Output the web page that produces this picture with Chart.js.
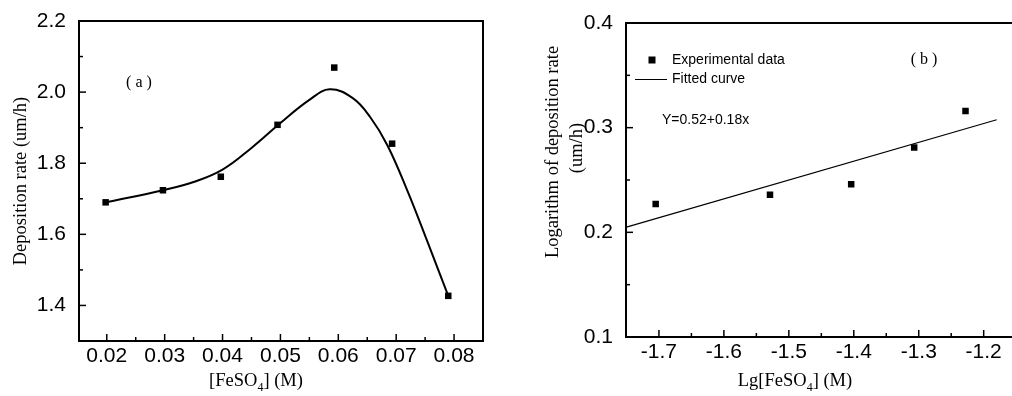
<!DOCTYPE html>
<html>
<head>
<meta charset="utf-8">
<script src="https://cdn.jsdelivr.net/npm/chart.js@4.4.0/dist/chart.umd.min.js"></script>
<style>
  html, body { margin: 0; padding: 0; background: #fff; }
  #wrap { position: relative; width: 1012px; height: 396px; overflow: hidden; }
  canvas { position: absolute; top: 0; }
  #chartA { left: 0; }
  #chartB { left: 500px; }
</style>
</head>
<body>
<div id="wrap">
  <canvas id="chartA" width="500" height="396"></canvas>
  <canvas id="chartB" width="512" height="396"></canvas>
</div>
<script>
// ---- panel (a): deposition rate vs [FeSO4]
const concA = [0.0198, 0.0297, 0.0397, 0.0495, 0.0593, 0.0693, 0.0790];
const rateA = [1.690, 1.724, 1.762, 1.908, 2.069, 1.855, 1.427];
// smooth curve drawn through the plot
const curveConcA = [0.0198, 0.0297, 0.035, 0.040, 0.045, 0.050, 0.055, 0.0585, 0.0625, 0.0655, 0.0685, 0.072, 0.0755, 0.0790];
const curveRateA = [1.690, 1.724, 1.747, 1.782, 1.843, 1.913, 1.978, 2.008, 1.983, 1.930, 1.850, 1.720, 1.575, 1.427];
const xTicksA = [0.02, 0.03, 0.04, 0.05, 0.06, 0.07, 0.08];
const xMinorA = [0.015, 0.025, 0.035, 0.045, 0.055, 0.065, 0.075];
const yTicksA = [1.4, 1.6, 1.8, 2.0, 2.2];
const yMinorA = [1.3, 1.5, 1.7, 1.9, 2.1];

// ---- panel (b): log-log plot with linear fit
const lgConcB = [-1.705, -1.529, -1.404, -1.307, -1.228];
const lgRateB = [0.227, 0.236, 0.246, 0.281, 0.316];
const fitXB = [-1.75, -1.18];
const fitYB = [0.205, 0.3076];
const xTicksB = [-1.7, -1.6, -1.5, -1.4, -1.3, -1.2];
const xMinorB = [-1.75, -1.65, -1.55, -1.45, -1.35, -1.25];
const yTicksB = [0.1, 0.2, 0.3, 0.4];
const yMinorB = [0.15, 0.25, 0.35];

const pts = (xs, ys) => xs.map((x, i) => ({ x, y: ys[i] }));
const tickFont = { family: "'Liberation Sans', Arial, sans-serif", size: 21 };
const serif = "'Liberation Serif', 'Times New Roman', serif";

// draws frame, inward ticks, titles and free text
const decor = {
  id: 'decor',
  afterDraw(chart, args, o) {
    const { ctx, chartArea: a, scales } = chart;
    ctx.save();
    ctx.strokeStyle = '#000';
    ctx.fillStyle = '#000';
    ctx.lineWidth = 1.5;
    const seg = (x1, y1, x2, y2) => { ctx.beginPath(); ctx.moveTo(x1, y1); ctx.lineTo(x2, y2); ctx.stroke(); };
    o.xMajor.forEach(v => { const p = scales.x.getPixelForValue(v); seg(p, a.bottom, p, a.bottom - 7); });
    o.xMinor.forEach(v => { const p = scales.x.getPixelForValue(v); if (p > a.left + 1) seg(p, a.bottom, p, a.bottom - 4); });
    o.yMajor.forEach(v => { const p = scales.y.getPixelForValue(v); seg(a.left, p, a.left + 7, p); });
    o.yMinor.forEach(v => { const p = scales.y.getPixelForValue(v); if (p < a.bottom - 1) seg(a.left, p, a.left + 4, p); });

    ctx.lineWidth = 2;
    ctx.beginPath();
    if (o.closed) {
      ctx.rect(a.left, a.top, a.right - a.left, a.bottom - a.top);
    } else {
      ctx.moveTo(chart.width, a.top); ctx.lineTo(a.left, a.top);
      ctx.lineTo(a.left, a.bottom); ctx.lineTo(chart.width, a.bottom);
    }
    ctx.stroke();

    // x title with subscript
    ctx.textBaseline = 'alphabetic';
    ctx.textAlign = 'left';
    const big = '18.5px ' + serif, small = '12px ' + serif;
    ctx.font = big;
    const w1 = ctx.measureText(o.xTitle[0]).width, w3 = ctx.measureText(o.xTitle[2]).width;
    ctx.font = small;
    const w2 = ctx.measureText(o.xTitle[1]).width;
    let x = o.xTitlePos[0] - (w1 + w2 + w3) / 2;
    const y = o.xTitlePos[1];
    ctx.font = big; ctx.fillText(o.xTitle[0], x, y); x += w1;
    ctx.font = small; ctx.fillText(o.xTitle[1], x, y + 5); x += w2;
    ctx.font = big; ctx.fillText(o.xTitle[2], x, y);

    // rotated y title lines
    ctx.font = big;
    ctx.textAlign = 'center';
    ctx.textBaseline = 'middle';
    o.yTitle.forEach(t => {
      ctx.save();
      ctx.translate(t[1], t[2]);
      ctx.rotate(-Math.PI / 2);
      ctx.fillText(t[0], 0, 0);
      ctx.restore();
    });

    // free texts
    o.texts.forEach(t => {
      ctx.font = t.font;
      ctx.textAlign = t.align || 'left';
      ctx.fillText(t.text, t.x, t.y);
    });

    // legend
    if (o.legend) {
      const ds = chart.data.datasets;
      ctx.font = "14px 'Liberation Sans', Arial, sans-serif";
      ctx.textAlign = 'left';
      ctx.fillRect(148.5, 56.5, 7, 7);
      ctx.fillText(ds[0].label, 172, 60);
      ctx.lineWidth = 1;
      seg(135, 79.5, 167, 79.5);
      ctx.fillText(ds[1].label, 172, 79);
    }
    ctx.restore();
  }
};

function scaleX(min, max, ticks, h) {
  return {
    type: 'linear', min, max,
    grid: { display: false }, border: { display: false },
    afterBuildTicks: s => { s.ticks = ticks.map(v => ({ value: v })); },
    afterFit: s => { s.height = h; },
    ticks: { color: '#000', font: tickFont, padding: -5, maxRotation: 0, callback: v => v }
  };
}
function scaleY(min, max, ticks, w, digits) {
  return {
    type: 'linear', min, max,
    grid: { display: false }, border: { display: false },
    afterBuildTicks: s => { s.ticks = ticks.map(v => ({ value: v })); },
    afterFit: s => { s.width = w; },
    ticks: { color: '#000', font: tickFont, padding: 5, callback: v => v.toFixed(digits) }
  };
}

new Chart(document.getElementById('chartA'), {
  type: 'scatter',
  data: {
    datasets: [
      { label: 'Deposition rate', data: pts(concA, rateA), pointStyle: 'rect', pointRadius: 4.6,
        pointBorderWidth: 0, backgroundColor: '#000', borderColor: '#000' },
      { label: 'Fit', data: pts(curveConcA, curveRateA), showLine: true, pointRadius: 0,
        borderColor: '#000', borderWidth: 2, tension: 0.4 }
    ]
  },
  options: {
    responsive: false, animation: false,
    layout: { padding: { left: 0, top: 21, right: 17, bottom: 0 } },
    plugins: {
      legend: { display: false }, tooltip: { enabled: false },
      decor: {
        closed: true,
        xMajor: xTicksA, xMinor: xMinorA, yMajor: yTicksA, yMinor: yMinorA,
        xTitle: ['[FeSO', '4', '] (M)'], xTitlePos: [256, 386],
        yTitle: [['Deposition rate (um/h)', 21, 181]],
        texts: [{ text: '( a )', x: 139, y: 83, font: '16px ' + serif, align: 'center' }]
      }
    },
    scales: {
      x: scaleX(0.0152, 0.085, xTicksA, 55),
      y: scaleY(1.3, 2.2, yTicksA, 79, 1)
    }
  },
  plugins: [decor]
});

new Chart(document.getElementById('chartB'), {
  type: 'scatter',
  data: {
    datasets: [
      { label: 'Experimental data', data: pts(lgConcB, lgRateB), pointStyle: 'rect', pointRadius: 4.6,
        pointBorderWidth: 0, backgroundColor: '#000', borderColor: '#000' },
      { label: 'Fitted curve', data: pts(fitXB, fitYB), showLine: true, pointRadius: 0,
        borderColor: '#000', borderWidth: 1.2 }
    ]
  },
  options: {
    responsive: false, animation: false,
    layout: { padding: { left: 0, top: 23, right: 0, bottom: 0 } },
    plugins: {
      legend: { display: false }, tooltip: { enabled: false },
      decor: {
        closed: false, legend: true,
        xMajor: xTicksB, xMinor: xMinorB, yMajor: yTicksB, yMinor: yMinorB,
        xTitle: ['Lg[FeSO', '4', '] (M)'], xTitlePos: [295, 386],
        yTitle: [['Logarithm of deposition rate', 53, 152], ['(um/h)', 77, 148]],
        texts: [
          { text: 'Y=0.52+0.18x', x: 162, y: 120, font: "14px 'Liberation Sans', Arial, sans-serif" },
          { text: '( b )', x: 424, y: 60, font: '16px ' + serif, align: 'center' }
        ]
      }
    },
    scales: {
      x: scaleX(-1.7507, -1.1635, xTicksB, 59),
      y: scaleY(0.1, 0.4, yTicksB, 126, 1)
    }
  },
  plugins: [decor]
});
</script>
</body>
</html>
